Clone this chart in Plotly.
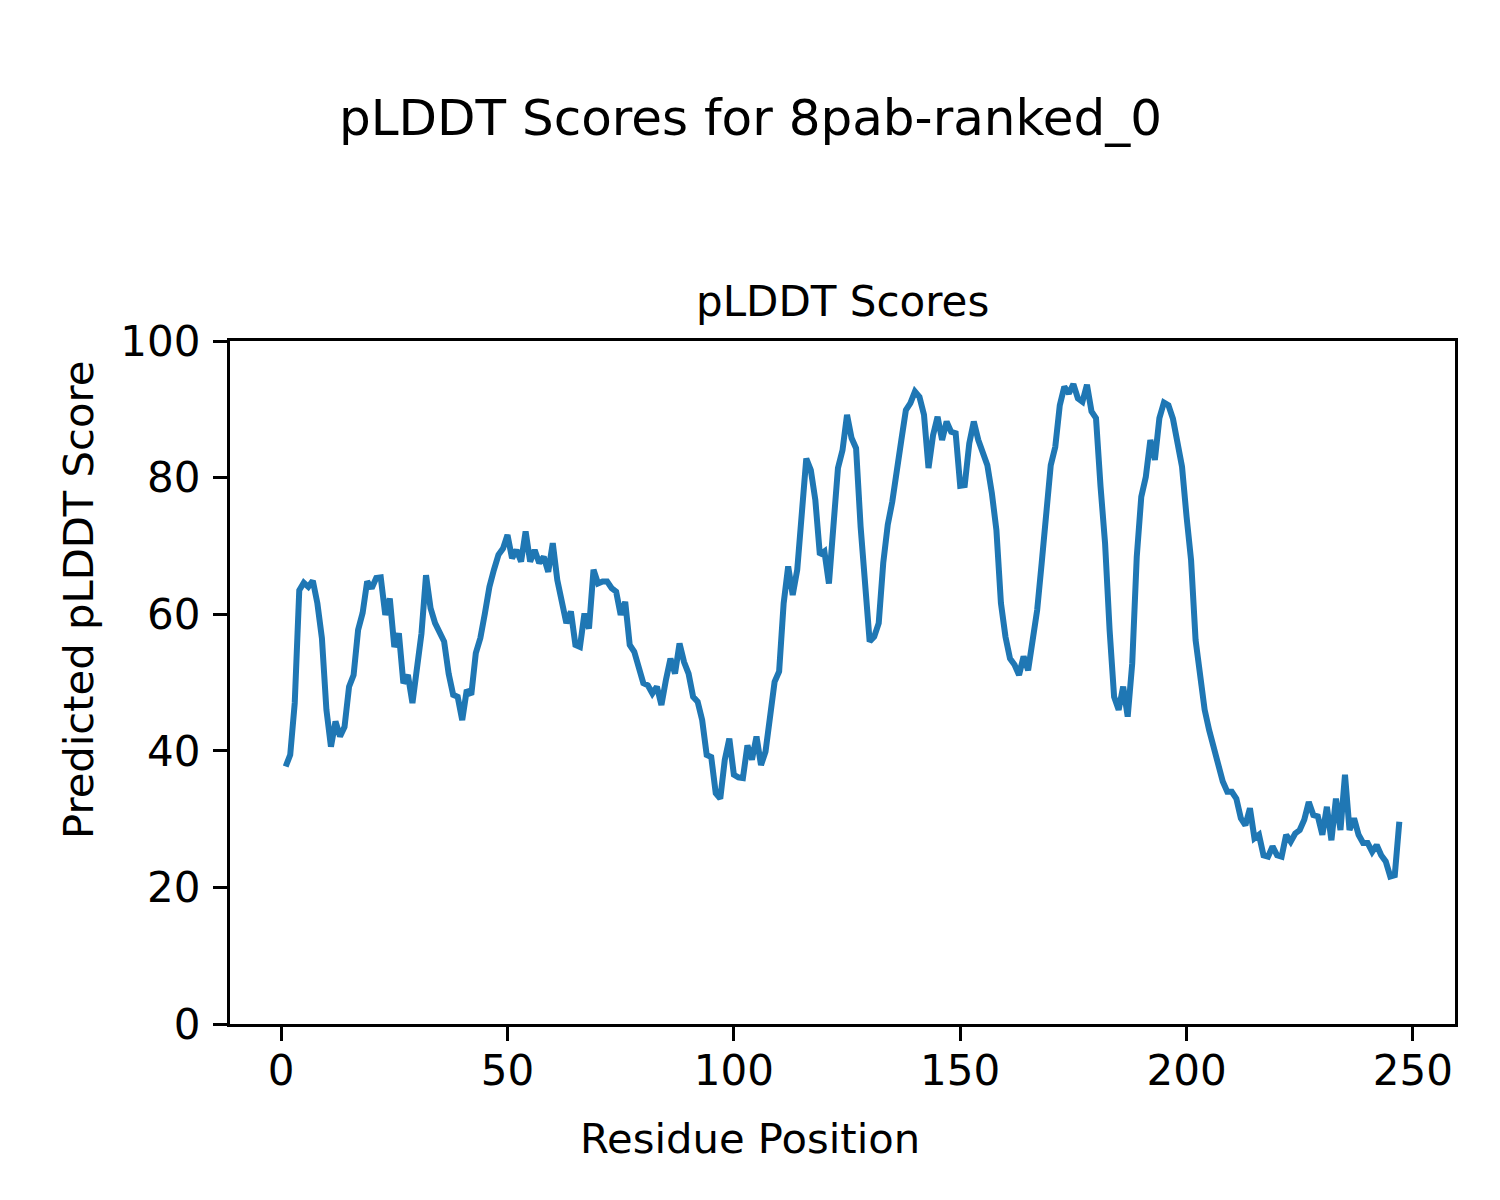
import plotly.graph_objects as go

residues = list(range(1, 248))
plddt = [
    37.7, 39.4, 47.0, 63.5, 64.6, 64.0, 64.9, 61.6, 56.5, 46.0,
    40.6, 44.3, 42.1, 43.5, 49.4, 51.1, 57.7, 60.2, 64.8, 63.8,
    65.3, 65.4, 59.9, 62.3, 55.2, 57.2, 49.9, 51.1, 47.0,
    52.3, 57.2, 65.7, 60.9, 58.7, 57.2, 56.0, 51.3, 48.2, 47.9,
    44.5, 48.9, 48.2, 54.3, 56.5, 60.1, 64.0, 66.5, 68.7, 69.6,
    71.6, 68.2, 69.4, 67.7, 72.1, 67.7, 69.4, 67.5, 68.4, 66.2,
    70.4, 65.0, 61.6, 58.7, 60.4, 55.5, 55.2, 60.1, 57.9, 66.5,
    64.5, 64.8, 64.8, 63.8, 63.3, 59.9, 61.8, 55.5, 54.5, 51.8,
    49.9, 49.6, 48.4, 49.4, 46.7, 50.4, 53.5, 51.3, 55.7, 53.0,
    51.3, 47.9, 47.2, 44.5, 39.4, 39.1, 33.8, 33.0, 38.7, 41.8,
    36.5, 36.1, 36.0, 40.8, 38.7, 42.1, 37.9, 39.9, 45.0, 50.1,
    51.6, 61.6, 67.0, 62.8, 66.5, 75.3, 82.8, 81.1, 76.7, 68.7,
    69.2, 64.5, 73.8, 81.4, 84.0, 89.2, 85.8, 84.3, 72.8, 64.0,
    56.0, 56.7, 58.7, 67.5, 73.1, 76.5, 81.6, 85.5, 89.9, 90.9,
    92.6, 91.8, 89.2, 81.4, 86.2, 88.9, 85.5, 88.2, 86.7, 86.5,
    78.8, 78.9, 85.0, 88.2, 85.5, 83.8, 81.8, 77.7, 72.3, 61.6,
    56.7, 53.5, 52.6, 51.1, 53.8, 51.8, 56.2, 60.6, 67.5, 75.3,
    81.8, 84.5, 90.6, 93.3, 92.3, 93.7, 91.6, 91.1, 93.6, 89.7,
    88.7, 78.7, 70.4, 57.7, 47.9, 46.0, 49.4, 45.0, 52.8, 68.4,
    77.2, 80.1, 85.5, 82.6, 88.7, 91.0, 90.6, 88.6, 85.1, 81.6,
    74.3, 67.9, 56.2, 50.4, 46.0, 43.0, 40.4, 37.7, 35.5, 34.0,
    34.0, 33.0, 30.1, 29.1, 31.6, 27.2, 27.7, 24.7, 24.5, 26.0,
    24.7, 24.5, 27.7, 26.7, 27.9, 28.4, 29.9, 32.5, 30.6, 30.4,
    27.7, 31.8, 26.9, 33.0, 28.4, 36.5, 28.4, 30.1, 27.7, 26.5,
    26.5, 25.2, 26.2, 24.7, 23.8, 21.6, 21.8, 29.6,
]

suptitle = "pLDDT Scores for 8pab-ranked_0"
axes_title = "pLDDT Scores"
x_label = "Residue Position"
y_label = "Predicted pLDDT Score"
x_ticks = [0, 50, 100, 150, 200, 250]
y_ticks = [0, 20, 40, 60, 80, 100]

FONT = "DejaVu Sans"
TICK_SIZE = 42
LABEL_SIZE = 41.7

fig = go.Figure()
fig.add_trace(go.Scatter(
    x=residues, y=plddt, mode="lines",
    line=dict(color="#1f77b4", width=6),
    showlegend=False,
))

span = residues[-1] - residues[0]
axis_common = dict(
    ticks="outside", ticklen=14, tickwidth=3.2, tickcolor="black",
    showline=True, linecolor="black", linewidth=3.2, mirror=True,
    showgrid=False, zeroline=False,
    tickfont=dict(family=FONT, size=TICK_SIZE, color="black"),
)
fig.update_layout(
    width=1500, height=1200,
    paper_bgcolor="white", plot_bgcolor="white",
    margin=dict(l=222, r=53, t=333, b=184),
    font=dict(family=FONT, size=TICK_SIZE, color="black"),
    xaxis=dict(
        range=[residues[0] - 0.05 * span, residues[-1] + 0.05 * span],
        tickvals=x_ticks, ticktext=[str(v) for v in x_ticks],
        ticklabelstandoff=-7,
        **axis_common,
    ),
    yaxis=dict(
        range=[0, 100],
        tickvals=y_ticks, ticktext=[str(v) for v in y_ticks],
        ticklabelstandoff=4,
        **axis_common,
    ),
    annotations=[
        dict(text=suptitle, xref="paper", yref="paper", x=(750 - 230) / 1225,
             y=(1024 - 118) / 683, xanchor="center", yanchor="middle",
             showarrow=False, font=dict(family=FONT, size=50, color="black")),
        dict(text=axes_title, xref="paper", yref="paper", x=0.5,
             y=(1024 - 302) / 683, xanchor="center", yanchor="middle",
             showarrow=False, font=dict(family=FONT, size=42, color="black")),
        dict(text=x_label, xref="paper", yref="paper", x=(750 - 230) / 1225,
             y=(1024 - 1138) / 683, xanchor="center", yanchor="middle",
             showarrow=False, font=dict(family=FONT, size=LABEL_SIZE, color="black")),
        dict(text=y_label, xref="paper", yref="paper", x=(78 - 230) / 1225,
             y=(1024 - 600) / 683, xanchor="center", yanchor="middle", textangle=-90,
             showarrow=False, font=dict(family=FONT, size=LABEL_SIZE, color="black")),
    ],
)

fig.write_html("out.html")
